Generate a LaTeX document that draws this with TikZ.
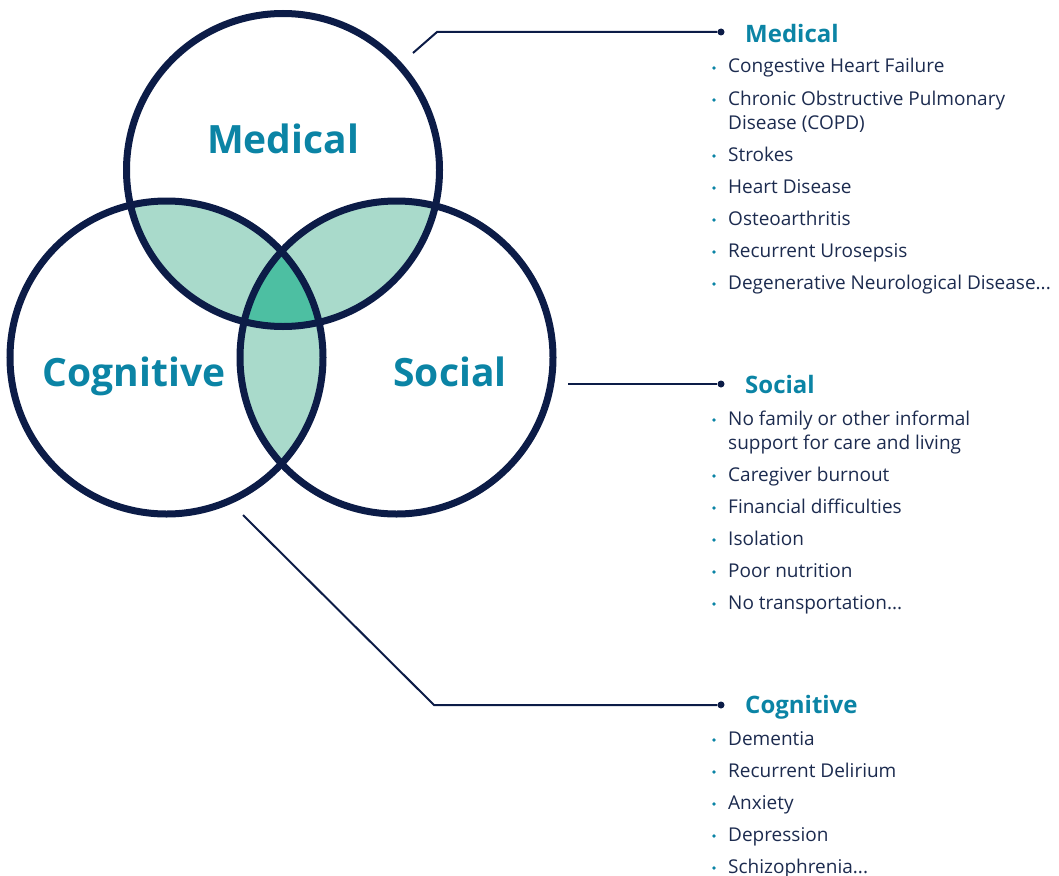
\documentclass[tikz,border=0pt]{standalone}
\usepackage{fontspec}
\setmainfont{Open Sans}
\usetikzlibrary{calc,positioning}
\definecolor{navy}{HTML}{0C1C47}
\definecolor{ink}{HTML}{1C2B4F}
\definecolor{vennteal}{HTML}{0B84A5}
\definecolor{lens}{HTML}{A9DACB}
\definecolor{core}{HTML}{4DBFA2}
\tikzset{
  ring/.style={circle, draw=navy, line width=7pt, minimum size=313pt, inner sep=0pt},
  biglabel/.style={font=\fontsize{39}{39}\selectfont\bfseries, text=vennteal, anchor=base, inner sep=0pt},
  head/.style={font=\fontsize{24}{24}\selectfont\bfseries, text=vennteal, anchor=base west, inner sep=0pt},
  item/.style={font=\fontsize{19}{24}\selectfont, text=ink, anchor=base west, inner sep=0pt, align=left},
  link/.style={draw=navy, line width=2pt},
  knob/.style={circle, fill=navy, inner sep=0pt, minimum size=7pt}
}

\begin{document}
\begin{tikzpicture}[x=1pt,y=-1pt]
\useasboundingbox (0,0) rectangle (1059,875);
\coordinate (med) at (283,170);
\coordinate (cog) at (166.5,357.5);
\coordinate (soc) at (396.5,357.5);

\begin{scope} \clip (med) circle (156.5pt); \fill[lens] (cog) circle (156.5pt); \fill[lens] (soc) circle (156.5pt); \end{scope}
\begin{scope} \clip (cog) circle (156.5pt); \fill[lens] (soc) circle (156.5pt); \end{scope}
\begin{scope} \clip (med) circle (156.5pt); \clip (cog) circle (156.5pt); \fill[core] (soc) circle (156.5pt); \end{scope}

\node[ring] (medical) at (med) {};
\node[ring] (cognitive) at (cog) {};
\node[ring] (social) at (soc) {};
\node[biglabel] (medtxt) at (283,153) {Medical};
\node[biglabel] (cogtxt) at (134,386) {Cognitive};
\node[biglabel] (soctxt) at (450,386) {Social};

\coordinate (mtail) at (413,53); \coordinate (mbend) at (437,32);
\node[knob] (mdot) at (721,32) {};
\draw[link] (mtail) -- (mbend) -- (mdot);
\node[head] (mhead) at (745,42) {Medical};

\coordinate (stail) at (568,384);
\node[knob] (sdot) at (721,384) {};
\draw[link] (stail) -- (sdot);
\node[head] (shead) at (745,393) {Social};

\coordinate (ctail) at (243,515); \coordinate (cbend) at (434,705);
\node[knob] (cdot) at (721,705) {};
\draw[link] (ctail) -- (cbend) -- (cdot);
\node[head] (chead) at (745,713) {Cognitive};

\foreach \b/\y/\t [count=\i] in {73/73/Congestive Heart Failure, 105/129/{Chronic Obstructive Pulmonary\\Disease (COPD)}, 161/161/Strokes, 193/193/Heart Disease, 225/225/Osteoarthritis, 257/257/Recurrent Urosepsis, 289/289/{Degenerative Neurological Disease...}}{
  \node[item] (med\i) at (728,\y) {\t};
  \fill[vennteal] (714,\b-5) circle (1.8pt);
}
\foreach \b/\y/\t [count=\i] in {425/449/{No family or other informal\\support for care and living}, 481/481/Caregiver burnout, 513/513/Financial difficulties, 545/545/Isolation, 577/577/Poor nutrition, 609/609/{No transportation...}}{
  \node[item] (soc\i) at (728,\y) {\t};
  \fill[vennteal] (714,\b-5) circle (1.8pt);
}
\foreach \b/\y/\t [count=\i] in {745/745/Dementia, 777/777/Recurrent Delirium, 809/809/Anxiety, 841/841/Depression, 873/873/{Schizophrenia...}}{
  \node[item] (cog\i) at (728,\y) {\t};
  \fill[vennteal] (714,\b-5) circle (1.8pt);
}
\end{tikzpicture}
\end{document}
